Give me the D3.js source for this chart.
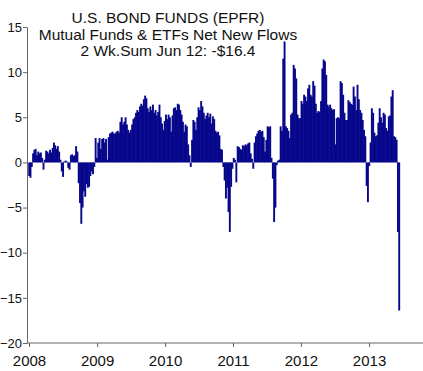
<!DOCTYPE html>
<html>
<head>
<meta charset="utf-8">
<script src="https://cdn.jsdelivr.net/npm/d3@7"></script>
<style>
  body { margin: 0; background: #fff; }
  text { font-family: "Liberation Sans", Arial, sans-serif; }
</style>
</head>
<body>
<div id="chart"></div>
<script>
// weekly 2-week sums, $bn, first week ending Jan 2 2008
var firstWeek = new Date(2008, 0, 2);

var flows2008 = [-1.5, -1.7, -0.5, 1.0, 1.4, 1.5, 0.8, 1.2, 1.0, 1.1, 0.5, -0.8, 0.3,
  1.3, 1.2, 1.0, 1.4, 1.1, 1.6, 2.2, 1.9, 1.5, 1.8, 1.2, 0.3, -1.0, -1.6, 0.1, 0.2, 0.1,
  -0.6, -0.8, 0.8, 0.9, 0.7, 0.8, 1.8, 1.2, -2.3, -4.5, -6.8, -5.0, -3.2, -3.8, -2.4,
  -2.8, -2.7, -1.5, -1.0, -1.3, -0.5, 2.7];
var flows2009 = [0.5, 2.2, 2.7, 1.5, 2.6, 2.7, 2.2, 2.6, 0.3, 2.8, 3.2, 3.3, 3.4, 3.2,
  3.2, 3.4, 3.5, 3.3, 4.5, 5.0, 4.2, 4.5, 5.0, 4.2, 3.6, 3.3, 3.6, 4.2, 4.8, 5.0, 5.5,
  5.8, 5.6, 6.2, 6.5, 6.3, 7.0, 7.4, 7.1, 6.0, 5.6, 6.2, 5.8, 6.4, 5.5, 5.8, 5.2, 5.6,
  6.4, 5.0, 4.3, 3.6];
var flows2010 = [4.6, 5.3, 4.8, 5.3, 5.0, 3.4, 5.2, 6.0, 6.1, 5.8, 6.5, 6.4, 5.8, 5.3,
  4.5, 3.4, 4.2, 4.0, 2.0, 0.8, -0.5, 2.5, 4.7, 4.5, 3.6, 5.0, 6.1, 5.8, 6.8, 6.2, 5.5,
  4.8, 5.2, 5.5, 5.0, 5.4, 4.3, 5.1, 4.8, 3.5, 3.3, 3.4, 3.0, 1.5, 1.4, -0.5, -2.0,
  -4.0, -2.8, -5.5, -7.7, -2.7];
var flows2011 = [-0.7, 0.5, 0.3, -2.2, 1.8, 1.7, 1.5, 1.4, 1.9, 1.8, 2.0, 1.9, 2.1, 2.2,
  1.0, 0.4, -0.7, 2.2, 2.9, 3.2, 3.5, 3.6, 3.4, 3.5, 2.8, 1.2, 2.5, 4.0, 3.9, 4.0, 0.5,
  -1.8, -6.6, -5.0, -0.3, 0.2, 0.3, 4.0, 3.5, 11.5, 13.4, 4.0, 3.8, 3.5, 2.7, 5.3, 5.5,
  10.8, 10.4, 9.3, 5.3, 4.9];
var flows2012 = [4.9, 6.8, 6.5, 7.5, 7.3, 6.8, 8.2, 8.6, 7.5, 7.3, 9.0, 8.5, 6.5, 5.5,
  5.7, 5.6, 6.8, 10.4, 11.4, 11.2, 9.7, 6.4, 6.2, 6.4, 6.0, 5.8, 5.9, 2.0, 4.9, 5.0,
  4.9, 9.0, 8.8, 7.5, 5.5, 4.7, 4.7, 6.9, 6.7, 6.5, 6.4, 8.4, 7.3, 5.8, 8.6, 7.0, 5.8,
  5.5, 4.7, 3.6, 2.9, -2.6];
var flows2013 = [-4.4, -0.4, 2.2, 6.0, 5.5, 3.3, 2.9, 3.0, 4.4, 6.0, 5.0, 4.4, 5.5, 5.3,
  3.8, 3.5, 5.1, 5.2, 7.3, 8.0, 2.9, 2.8, 2.5, -7.7, -16.4];

var years = [2008, 2009, 2010, 2011, 2012, 2013];
var yTicks = [-20, -15, -10, -5, 0, 5, 10, 15];
var titleLines = ["U.S. BOND FUNDS (EPFR)", "Mutual Funds & ETFs Net New Flows", "2 Wk.Sum Jun 12: -$16.4"];

var values = [].concat(flows2008, flows2009, flows2010, flows2011, flows2012, flows2013);
var data = values.map(function(v, i) {
  return { date: d3.timeDay.offset(firstWeek, 7 * i), value: v };
});

var W = 423, H = 371;
var svg = d3.select("#chart")
  .append("svg")
    .attr("width", W)
    .attr("height", H);

var x = d3.scaleTime()
  .domain([new Date(2008, 0, 1), new Date(2014, 0, 1)])
  .range([29, 437]);

var y = d3.scaleLinear()
  .domain([-20, 15])
  .range([343, 27]);

// bars
var barW = 1.9;
svg.append("g")
  .selectAll("rect")
  .data(data)
  .enter()
  .append("rect")
    .attr("x", function(d) { return x(d.date) - barW / 2 })
    .attr("width", barW)
    .attr("y", function(d) { return y(Math.max(0, d.value)) })
    .attr("height", function(d) { return Math.abs(y(d.value) - y(0)) })
    .attr("fill", "#07078c");

// Y axis
var yAxis = svg.append("g")
  .attr("transform", "translate(27,0)")
  .call(d3.axisLeft(y).tickValues(yTicks).tickSize(4).tickSizeOuter(0).tickPadding(1));
yAxis.select(".domain").attr("stroke", "#666");
yAxis.selectAll(".tick line").attr("stroke", "#666");
yAxis.selectAll(".tick text")
  .style("font-size", "13px")
  .attr("fill", "#111");

// X axis
var xAxis = svg.append("g")
  .attr("transform", "translate(0,343)")
  .call(d3.axisBottom(x)
    .tickValues(years.map(function(yr) { return new Date(yr, 0, 1) }))
    .tickFormat(d3.timeFormat("%Y"))
    .tickSize(4).tickSizeOuter(0).tickPadding(8));
xAxis.select(".domain").remove();
xAxis.selectAll(".tick line").attr("stroke", "#666");
xAxis.selectAll(".tick text")
  .style("font-size", "15px")
  .attr("fill", "#111");
svg.append("line")
  .attr("x1", 27).attr("x2", W)
  .attr("y1", 343).attr("y2", 343)
  .attr("stroke", "#666");

// title
svg.append("g")
  .selectAll("text")
  .data(titleLines)
  .enter()
  .append("text")
    .attr("x", 168)
    .attr("y", function(d, i) { return 23 + i * 16.5 })
    .attr("text-anchor", "middle")
    .style("font-size", "15.5px")
    .attr("fill", "#111")
    .text(function(d) { return d });
</script>
</body>
</html>
